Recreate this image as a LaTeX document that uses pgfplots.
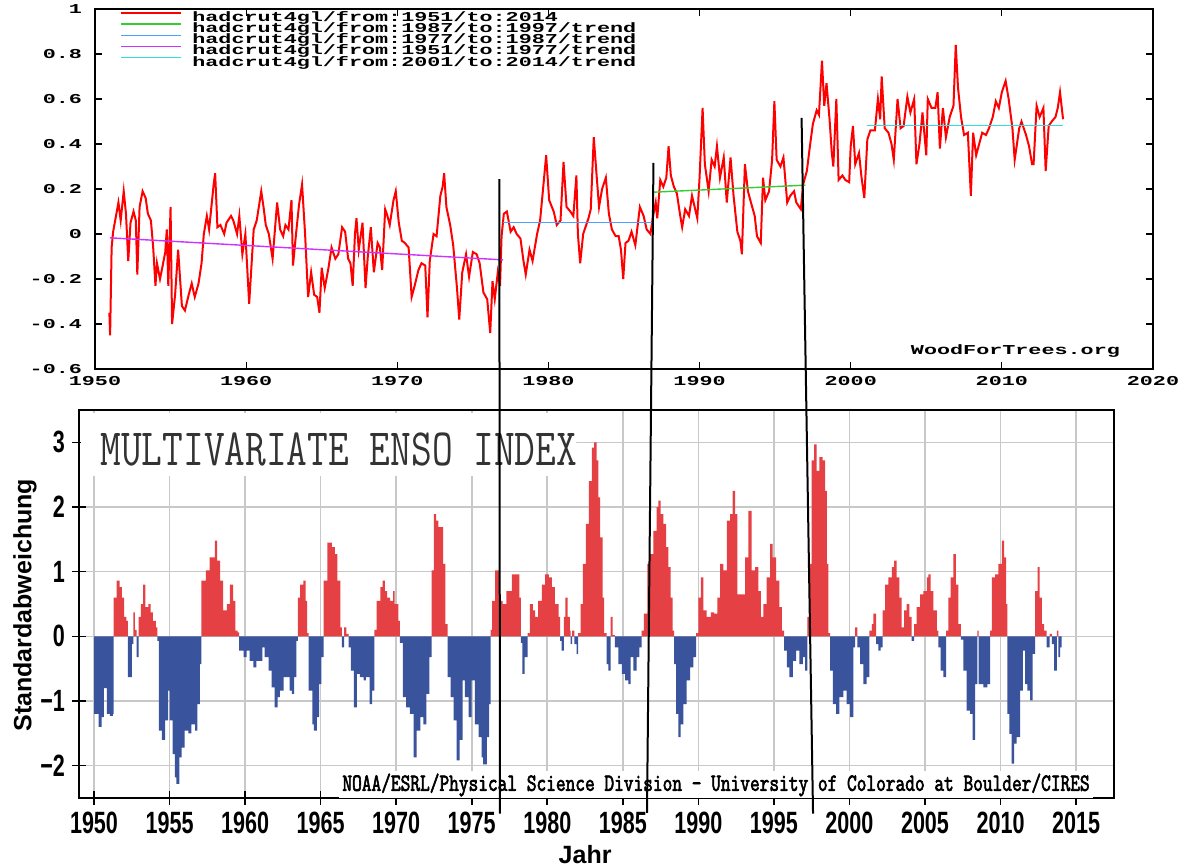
\documentclass[border=0pt]{standalone}
\usepackage{pgfplots}
\pgfplotsset{compat=1.18}
\usepackage{pgfplotstable}
\usepackage{graphicx}
\usepackage{fontspec}
\setmainfont{Liberation Sans}
\newfontfamily\monof{Liberation Mono}
\newfontfamily\lmttb{Latin Modern Mono}[FakeBold=3]
\definecolor{meired}{RGB}{229,65,69}
\definecolor{meiblue}{RGB}{57,83,157}
\definecolor{gridgray}{RGB}{200,200,200}
\definecolor{trgreen}{RGB}{51,204,51}
\definecolor{trblue}{RGB}{80,160,255}
\definecolor{trmag}{RGB}{204,51,255}
\definecolor{trcyan}{RGB}{51,221,221}
\newcommand{\wft}[1]{\scalebox{1.6}[1]{\monof\bfseries\fontsize{6.8pt}{7pt}\selectfont #1}}
\newcommand{\bx}[1]{\scalebox{0.7}[1]{\bfseries\fontsize{15.4pt}{16pt}\selectfont #1}}

\pgfplotstableread{
yr v
1950.95 -0.35
1951.0 -0.45
1951.1 -0.06
1951.2 0.01
1951.55 0.14
1951.7 0.06
1951.9 0.19
1952.05 0.09
1952.2 -0.12
1952.35 0.05
1952.55 0.10
1952.7 0.06
1952.8 -0.18
1952.95 0.12
1953.15 0.19
1953.35 0.16
1953.5 0.09
1953.7 0.06
1953.85 -0.06
1954.0 -0.23
1954.1 -0.13
1954.3 -0.20
1954.45 -0.15
1954.65 -0.08
1954.75 0.02
1954.85 -0.23
1955.0 0.12
1955.1 -0.40
1955.3 -0.27
1955.5 -0.07
1955.75 -0.32
1955.95 -0.34
1956.2 -0.27
1956.4 -0.22
1956.6 -0.28
1956.85 -0.22
1957.05 -0.13
1957.2 0.00
1957.4 0.08
1957.55 0.02
1957.85 0.22
1957.95 0.27
1958.1 0.03
1958.3 0.04
1958.55 0.00
1958.7 0.05
1959.0 0.08
1959.15 0.06
1959.4 0.00
1959.55 0.08
1959.75 -0.09
1959.95 0.00
1960.2 -0.31
1960.4 -0.09
1960.5 0.02
1960.7 0.06
1961.0 0.19
1961.15 0.12
1961.3 0.04
1961.5 0.00
1961.75 -0.11
1962.05 0.14
1962.25 0.02
1962.45 -0.01
1962.6 0.04
1962.8 0.02
1963.0 0.15
1963.1 -0.14
1963.3 0.00
1963.5 0.13
1963.7 0.22
1963.9 0.00
1964.1 -0.28
1964.3 -0.17
1964.5 -0.27
1964.7 -0.28
1964.85 -0.35
1965.0 -0.15
1965.2 -0.24
1965.45 -0.15
1965.65 -0.06
1965.9 -0.11
1966.1 -0.09
1966.35 0.03
1966.55 0.01
1966.75 -0.11
1966.9 -0.13
1967.05 -0.23
1967.2 0.00
1967.3 0.07
1967.45 -0.07
1967.7 0.05
1967.9 -0.24
1968.05 -0.10
1968.25 0.03
1968.45 -0.17
1968.7 -0.04
1968.85 -0.06
1969.0 -0.16
1969.2 0.11
1969.35 0.08
1969.5 0.04
1969.75 0.15
1969.9 0.19
1970.1 0.05
1970.3 -0.03
1970.5 -0.04
1970.75 -0.06
1970.95 -0.28
1971.15 -0.23
1971.4 -0.16
1971.6 -0.13
1971.85 -0.14
1972.0 -0.37
1972.15 -0.12
1972.4 0.00
1972.6 -0.01
1972.85 0.17
1973.0 0.21
1973.1 0.27
1973.25 0.12
1973.5 0.04
1973.7 -0.05
1973.95 -0.24
1974.1 -0.38
1974.3 -0.17
1974.55 -0.09
1974.75 -0.19
1975.0 -0.08
1975.25 -0.09
1975.45 -0.13
1975.7 -0.26
1975.95 -0.29
1976.15 -0.44
1976.3 -0.21
1976.45 -0.29
1976.65 -0.17
1976.8 -0.23
1976.9 -0.01
1977.05 0.09
1977.25 0.10
1977.5 0.01
1977.7 0.03
1977.9 0.00
1978.15 -0.02
1978.35 -0.12
1978.5 -0.18
1978.75 -0.07
1978.95 -0.12
1979.25 0.00
1979.45 0.06
1979.7 0.24
1979.85 0.35
1980.05 0.15
1980.35 0.10
1980.55 0.04
1980.8 0.06
1981.0 0.32
1981.2 0.12
1981.45 0.10
1981.65 0.08
1981.85 0.26
1981.95 0.00
1982.1 -0.13
1982.3 0.00
1982.65 0.07
1982.8 0.11
1983.0 0.43
1983.2 0.25
1983.35 0.12
1983.55 0.20
1983.8 0.25
1984.0 0.09
1984.2 0.02
1984.45 -0.01
1984.65 -0.01
1984.8 -0.07
1984.95 -0.20
1985.1 -0.04
1985.3 -0.03
1985.5 0.01
1985.75 -0.05
1986.05 0.12
1986.3 0.08
1986.5 0.02
1986.75 0.00
1986.9 0.07
1987.1 0.14
1987.2 0.07
1987.4 0.24
1987.6 0.21
1987.8 0.25
1987.95 0.39
1988.1 0.26
1988.3 0.21
1988.5 0.18
1988.7 0.09
1988.85 0.03
1989.05 0.11
1989.3 0.08
1989.5 0.17
1989.85 0.07
1990.0 0.25
1990.2 0.56
1990.35 0.31
1990.6 0.19
1990.8 0.33
1991.0 0.30
1991.15 0.39
1991.35 0.25
1991.6 0.34
1991.8 0.14
1992.05 0.34
1992.25 0.17
1992.5 0.01
1992.7 -0.03
1992.8 -0.09
1993.0 0.31
1993.2 0.19
1993.4 0.14
1993.65 0.08
1993.8 -0.01
1994.05 -0.04
1994.2 0.25
1994.35 0.15
1994.6 0.19
1994.8 0.33
1994.95 0.59
1995.1 0.33
1995.35 0.30
1995.55 0.34
1995.8 0.14
1996.0 0.17
1996.25 0.19
1996.4 0.14
1996.7 0.11
1996.85 0.22
1997.1 0.28
1997.3 0.39
1997.5 0.49
1997.75 0.55
1997.9 0.53
1998.1 0.77
1998.25 0.57
1998.4 0.67
1998.6 0.51
1998.75 0.36
1998.85 0.30
1999.05 0.60
1999.2 0.24
1999.45 0.26
1999.65 0.24
1999.9 0.23
2000.0 0.39
2000.15 0.48
2000.3 0.31
2000.55 0.36
2000.7 0.26
2000.9 0.16
2001.1 0.42
2001.3 0.46
2001.6 0.46
2001.8 0.60
2001.95 0.51
2002.05 0.70
2002.25 0.47
2002.5 0.45
2002.7 0.40
2002.85 0.33
2003.1 0.60
2003.3 0.47
2003.5 0.48
2003.75 0.61
2003.95 0.54
2004.2 0.60
2004.35 0.31
2004.55 0.40
2004.75 0.54
2005.0 0.35
2005.1 0.60
2005.35 0.56
2005.6 0.56
2005.75 0.63
2005.9 0.38
2006.1 0.56
2006.3 0.43
2006.55 0.52
2006.8 0.57
2006.95 0.84
2007.1 0.65
2007.3 0.52
2007.5 0.44
2007.75 0.45
2007.95 0.17
2008.1 0.45
2008.3 0.35
2008.5 0.40
2008.7 0.45
2008.95 0.44
2009.15 0.47
2009.4 0.52
2009.6 0.59
2009.8 0.56
2010.0 0.63
2010.25 0.68
2010.45 0.60
2010.7 0.47
2010.85 0.33
2011.15 0.47
2011.3 0.50
2011.6 0.44
2011.8 0.39
2012.0 0.31
2012.1 0.31
2012.3 0.57
2012.5 0.52
2012.75 0.56
2012.9 0.28
2013.1 0.48
2013.3 0.50
2013.55 0.52
2013.7 0.56
2013.85 0.63
2014.05 0.51
}\hadcrut

\pgfplotstableread{
yr v
1950.0 -1.2
1950.3 -1.4
1950.5 -1.25
1950.65 -0.8
1950.85 -1.2
1951.05 -1.23
1951.25 -1.2
1951.3 0.6
1951.5 0.86
1951.7 0.76
1951.85 0.6
1952.0 0.3
1952.15 0.24
1952.25 -0.63
1952.5 -0.12
1952.6 0.37
1952.7 0.1
1952.82 -0.32
1952.95 0.3
1953.1 0.5
1953.25 0.8
1953.4 0.45
1953.6 0.5
1953.75 0.37
1953.9 0.24
1954.1 0.14
1954.2 -0.07
1954.3 -1.46
1954.5 -1.6
1954.7 -1.3
1954.9 -0.84
1955.0 -1.3
1955.2 -1.82
1955.35 -2.18
1955.45 -2.28
1955.65 -1.87
1955.8 -1.72
1956.0 -1.46
1956.25 -1.5
1956.45 -1.36
1956.7 -1.46
1956.85 -1.05
1957.0 -0.43
1957.1 0.86
1957.4 1.02
1957.65 1.22
1957.85 1.22
1958.0 1.48
1958.15 1.17
1958.35 0.86
1958.55 0.4
1958.8 0.5
1959.0 0.8
1959.2 0.55
1959.35 0.09
1959.5 0.06
1959.6 -0.22
1959.9 -0.32
1960.1 -0.22
1960.3 -0.38
1960.55 -0.48
1960.75 -0.38
1961.0 -0.38
1961.15 -0.17
1961.3 -0.32
1961.55 -0.53
1961.75 -0.79
1961.95 -1.1
1962.15 -0.94
1962.3 -0.84
1962.55 -0.63
1962.75 -0.63
1962.95 -0.84
1963.1 -0.89
1963.25 -0.63
1963.4 -0.07
1963.5 0.6
1963.65 0.8
1963.85 0.86
1964.0 0.55
1964.1 0.05
1964.2 -0.84
1964.45 -1.36
1964.55 -1.46
1964.75 -1.25
1964.9 -0.74
1965.05 -0.32
1965.2 0.86
1965.45 1.45
1965.75 1.38
1965.95 1.27
1966.1 0.86
1966.3 0.14
1966.4 -0.17
1966.55 0.14
1966.7 0.04
1966.85 -0.17
1967.0 -0.53
1967.2 -1.1
1967.4 -0.58
1967.6 -0.63
1967.85 -0.68
1968.0 -0.63
1968.25 -1.05
1968.4 -0.84
1968.55 0.1
1968.7 0.55
1968.95 0.76
1969.1 0.86
1969.25 0.7
1969.4 0.6
1969.6 0.55
1969.8 0.7
1969.9 0.5
1970.15 0.24
1970.25 -0.1
1970.45 -0.94
1970.65 -1.1
1970.9 -1.2
1971.15 -1.87
1971.35 -1.46
1971.6 -1.25
1971.8 -1.36
1972.0 -0.89
1972.2 -0.32
1972.35 1.02
1972.5 1.89
1972.65 1.79
1972.8 1.69
1972.95 1.69
1973.1 1.12
1973.25 0.19
1973.4 -0.63
1973.6 -0.94
1973.8 -1.3
1974.0 -1.92
1974.2 -1.6
1974.4 -0.68
1974.55 -0.94
1974.8 -1.25
1975.0 -0.68
1975.2 -1.36
1975.45 -1.56
1975.65 -1.87
1975.75 -1.98
1976.0 -1.56
1976.15 -1.05
1976.25 0.1
1976.35 0.55
1976.55 1.02
1976.8 0.55
1977.05 0.5
1977.3 0.7
1977.65 0.96
1977.9 0.96
1978.15 0.6
1978.25 -0.1
1978.35 -0.58
1978.5 -0.32
1978.7 0.05
1978.85 0.5
1979.05 0.4
1979.2 0.3
1979.4 0.55
1979.65 0.8
1979.85 0.96
1980.1 0.91
1980.3 0.76
1980.5 0.5
1980.75 0.3
1980.85 -0.07
1980.95 -0.22
1981.1 0.3
1981.2 0.6
1981.35 0.3
1981.5 0.09
1981.55 -0.12
1981.65 0.09
1981.8 -0.12
1981.95 -0.27
1982.05 0.05
1982.2 0.5
1982.35 1.12
1982.55 1.74
1982.75 2.4
1982.95 2.92
1983.1 3.0
1983.27 2.72
1983.38 2.15
1983.5 1.53
1983.67 0.6
1983.76 0.05
1983.93 -0.43
1984.05 -0.53
1984.2 0.3
1984.33 0.02
1984.48 -0.17
1984.7 -0.43
1984.93 -0.58
1985.15 -0.68
1985.37 -0.74
1985.52 -0.32
1985.7 -0.53
1985.92 -0.32
1986.1 -0.17
1986.25 0.09
1986.4 0.35
1986.63 1.12
1986.8 1.27
1987.02 1.63
1987.24 2.0
1987.35 2.1
1987.5 1.89
1987.68 1.74
1987.86 1.38
1988.02 1.07
1988.17 0.6
1988.3 0.09
1988.39 -0.43
1988.52 -1.2
1988.68 -1.56
1988.83 -1.36
1989.0 -1.05
1989.23 -0.68
1989.45 -0.48
1989.67 -0.32
1989.85 0.05
1990.0 0.6
1990.16 0.91
1990.33 0.4
1990.55 0.3
1990.82 0.37
1991.04 0.35
1991.26 0.6
1991.44 1.12
1991.66 1.02
1991.88 1.79
1992.1 1.89
1992.27 2.25
1992.43 1.89
1992.58 0.65
1993.09 1.22
1993.31 1.94
1993.53 1.02
1993.75 1.07
1993.97 0.7
1994.13 0.3
1994.3 0.5
1994.52 0.91
1994.75 1.43
1994.92 1.22
1995.14 0.86
1995.36 0.45
1995.52 0.09
1995.67 -0.22
1995.85 -0.48
1996.03 -0.63
1996.25 -0.38
1996.47 -0.22
1996.69 -0.43
1996.91 -0.32
1997.06 -0.53
1997.22 0.3
1997.39 1.12
1997.5 2.72
1997.66 2.97
1997.83 2.56
1998.01 2.77
1998.23 2.72
1998.39 2.25
1998.5 1.12
1998.61 0.05
1998.72 -0.53
1998.9 -1.05
1999.11 -1.2
1999.33 -0.94
1999.6 -0.84
1999.82 -1.05
2000.04 -1.25
2000.26 -0.17
2000.37 0.14
2000.53 -0.17
2000.7 -0.43
2000.92 -0.74
2001.14 -0.63
2001.32 0.09
2001.48 0.19
2001.59 0.35
2001.76 -0.12
2001.92 -0.22
2002.07 -0.17
2002.2 0.4
2002.36 0.8
2002.58 0.91
2002.8 1.07
2002.95 1.17
2003.13 0.91
2003.3 0.6
2003.46 0.14
2003.61 0.4
2003.79 0.5
2003.97 0.3
2004.12 -0.07
2004.28 0.19
2004.45 0.45
2004.67 0.65
2004.9 0.7
2005.12 0.91
2005.23 0.96
2005.38 0.7
2005.56 0.4
2005.78 0.09
2005.89 -0.17
2006.04 -0.53
2006.22 -0.63
2006.4 0.09
2006.55 0.6
2006.7 0.91
2006.88 1.27
2007.04 0.8
2007.21 0.19
2007.37 -0.05
2007.54 -0.53
2007.76 -1.15
2007.98 -1.2
2008.16 -1.6
2008.32 -0.74
2008.47 0.09
2008.55 -0.74
2008.87 -0.79
2009.13 -0.74
2009.31 0.09
2009.42 0.91
2009.64 0.96
2009.86 1.12
2010.08 1.48
2010.24 1.22
2010.37 0.5
2010.46 -1.2
2010.59 -1.51
2010.74 -1.97
2010.9 -1.66
2011.07 -1.56
2011.3 -0.84
2011.47 -0.22
2011.63 -0.74
2011.78 -0.84
2011.96 -0.99
2012.13 -0.27
2012.29 0.7
2012.45 1.07
2012.58 0.6
2012.73 0.19
2012.88 0.09
2013.05 -0.17
2013.24 0.04
2013.39 -0.12
2013.55 -0.53
2013.72 0.09
2013.83 -0.32
2013.94 -0.17
2014.05 0
}\mei

\begin{document}
\begin{tikzpicture}
\useasboundingbox (0,0) rectangle (592.5pt,434pt);
% ---------------- top: WoodForTrees ----------------
\begin{axis}[
  at={(47.5pt,249.5pt)}, anchor=south west,
  scale only axis, width=529pt, height=180pt,
  xmin=1950, xmax=2020, ymin=-0.6, ymax=1,
  xtick={1950,1960,1970,1980,1990,2000,2010,2020},
  xticklabels={\wft{1950},\wft{1960},\wft{1970},\wft{1980},\wft{1990},\wft{2000},\wft{2010},\wft{2020}},
  ytick={-0.6,-0.4,-0.2,0,0.2,0.4,0.6,0.8,1},
  yticklabels={\wft{-0.6},\wft{-0.4},\wft{-0.2},\wft{0},\wft{0.2},\wft{0.4},\wft{0.6},\wft{0.8},\wft{1}},
  tick align=inside, major tick length=3.5pt,
  tick style={black, line width=0.6pt},
  axis line style={black, line width=0.8pt},
  yticklabel style={xshift=-3pt},
  legend style={at={(0.0236,0.993)}, anchor=north west, draw=none, fill=none,
    inner sep=0pt, row sep=1.1pt, column sep=5pt,
    nodes={inner sep=0pt, text height=4.3pt, text depth=0pt}},
  legend cell align=left,
  legend image code/.code={\draw[#1] (0pt,2pt) -- (30pt,2pt);},
]
\addplot[red, line width=1pt] table[x=yr, y=v] {\hadcrut};
\addlegendentry{\wft{hadcrut4gl/from:1951/to:2014}}
\addplot[trgreen, line width=0.7pt] coordinates {(1987,0.186) (1997,0.217)};
\addlegendentry{\wft{hadcrut4gl/from:1987/to:1997/trend}}
\addplot[trblue, line width=0.7pt] coordinates {(1977,0.05) (1987,0.05)};
\addlegendentry{\wft{hadcrut4gl/from:1977/to:1987/trend}}
\addplot[trmag, line width=0.7pt] coordinates {(1951,-0.017) (1977,-0.115)};
\addlegendentry{\wft{hadcrut4gl/from:1951/to:1977/trend}}
\addplot[trcyan, line width=0.7pt] coordinates {(2001.06,0.483) (2014.05,0.483)};
\addlegendentry{\wft{hadcrut4gl/from:2001/to:2014/trend}}
\node at (rel axis cs:0.87,0.05) {\wft{WoodForTrees.org}};
\coordinate (t1) at (axis cs:1976.75,0.244);
\coordinate (t2) at (axis cs:1986.95,0.316);
\coordinate (t3) at (axis cs:1996.75,0.516);
\end{axis}
% ---------------- bottom: MEI ----------------
\begin{axis}[
  at={(39.5pt,35pt)}, anchor=south west,
  scale only axis, width=517.5pt, height=194pt,
  xmin=1949.007, xmax=2017.51, ymin=-2.5, ymax=3.5,
  xtick={1950,1955,1960,1965,1970,1975,1980,1985,1990,1995,2000,2005,2010,2015},
  xticklabels={\bx{1950},\bx{1955},\bx{1960},\bx{1965},\bx{1970},\bx{1975},\bx{1980},\bx{1985},\bx{1990},\bx{1995},\bx{2000},\bx{2005},\bx{2010},\bx{2015}},
  ytick={-2,-1,0,1,2,3},
  yticklabels={\bx{−2},\bx{−1},\bx{0},\bx{1},\bx{2},\bx{3}},
  xtick pos=bottom, ytick pos=left,
  grid=major, major grid style={gridgray, line width=0.8pt},
  axis line style={black, line width=1.4pt},
  tick style={black, line width=0.8pt},
  tick align=center, major tick length=7pt,
  xlabel={Jahr}, ylabel={Standardabweichung},
  label style={font=\bfseries\fontsize{12.5pt}{14pt}\selectfont},
  xlabel style={at={(axis description cs:0.489,-0.147)}, anchor=center},
  ylabel style={at={(axis description cs:-0.0522,0.497)}, anchor=center},
]
\addplot[draw=none, fill=meired, const plot mark left] table[x=yr, y expr={max(\thisrow{v},0)}] {\mei} \closedcycle;
\addplot[draw=none, fill=meiblue, const plot mark left] table[x=yr, y expr={min(\thisrow{v},0)}] {\mei} \closedcycle;
\fill[white] (axis cs:1949.12,3.46) rectangle (axis cs:1981.9,2.48);
\node[anchor=base west, inner sep=0pt, text=black!80] at (axis cs:1950.4,2.636)
  {\scalebox{0.768}[1]{\ttfamily\fontsize{26.2pt}{27pt}\selectfont MULTIVARIATE ENSO INDEX}};
\node[anchor=base, fill=white, inner sep=1.5pt] at (axis cs:1991.17,-2.388)
  {\scalebox{0.766}[1]{\lmttb\fontsize{12.3pt}{13pt}\selectfont NOAA/ESRL/Physical Science Division - University of Colorado at Boulder/CIRES}};
\coordinate (b1) at (axis cs:1976.87,-2.74);
\coordinate (b2) at (axis cs:1986.6,-2.73);
\coordinate (b3) at (axis cs:1997.59,-2.74);
\end{axis}
\draw[black, line width=1pt] (t1) -- (b1);
\draw[black, line width=1pt] (t2) -- (b2);
\draw[black, line width=1pt] (t3) -- (b3);
\end{tikzpicture}
\end{document}
